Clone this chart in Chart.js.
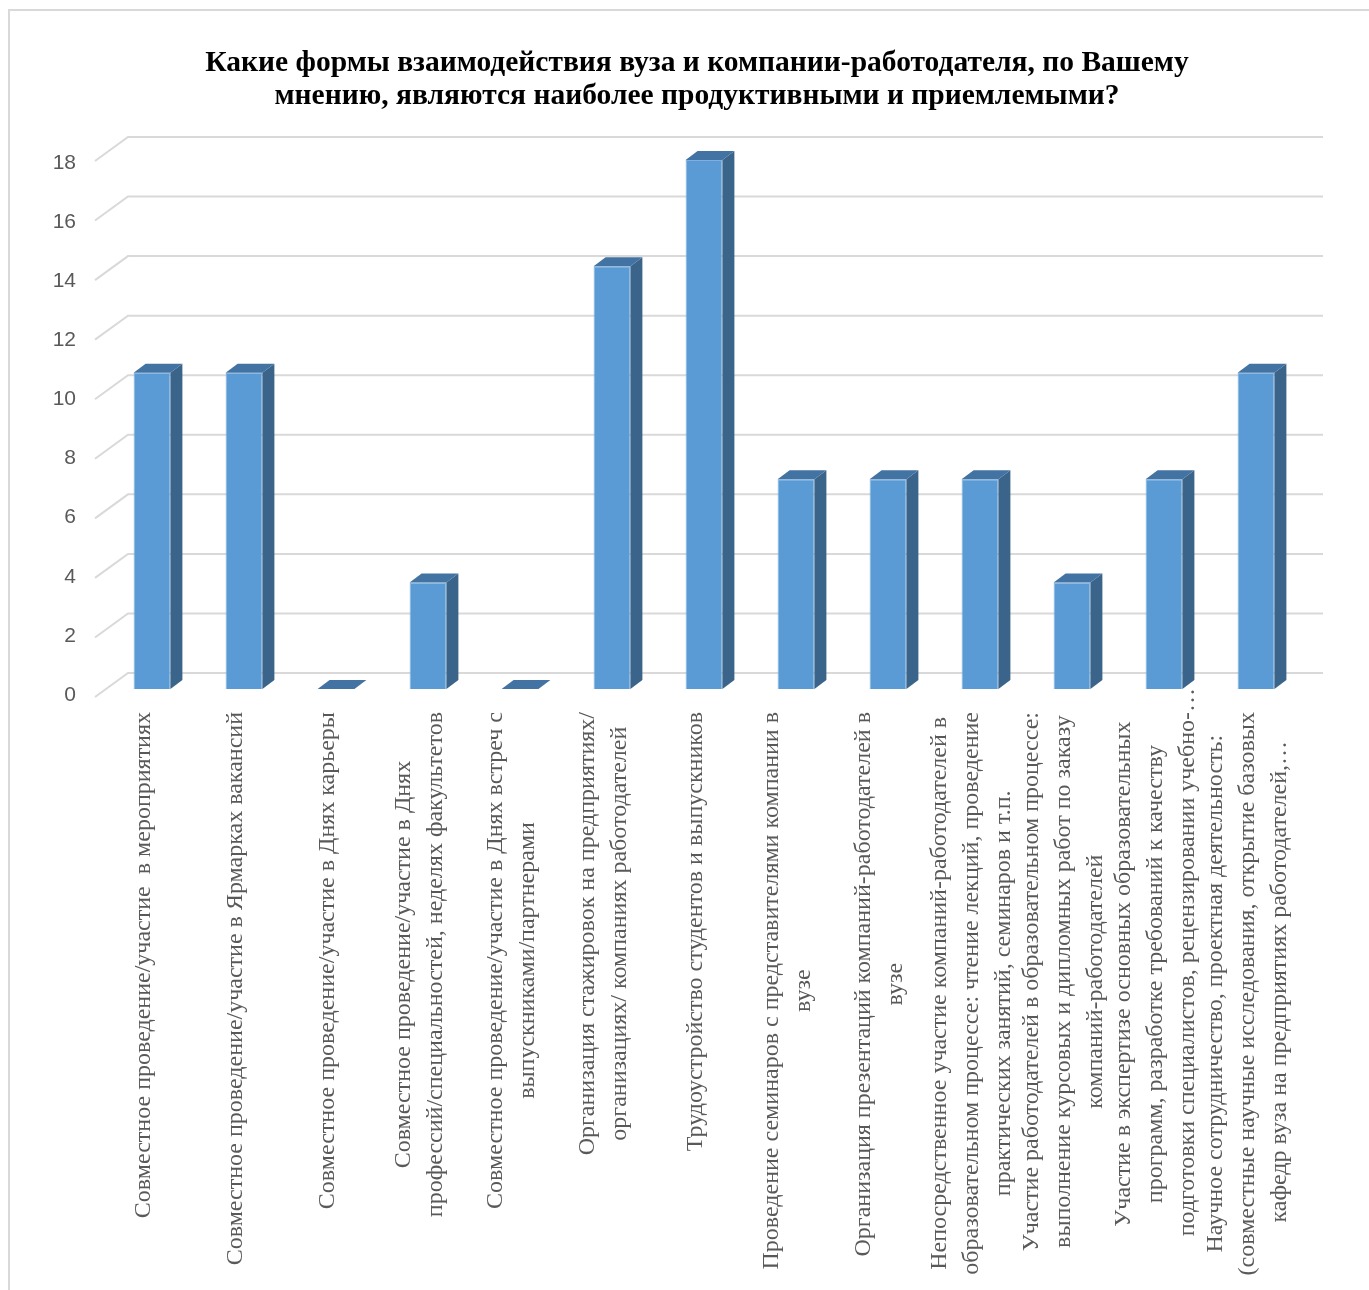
<!DOCTYPE html>
<html>
<head>
<meta charset="utf-8">
<script src="https://cdn.jsdelivr.net/npm/chart.js@4.4.1/dist/chart.umd.min.js"></script>
<style>
  html, body { margin: 0; padding: 0; background: #ffffff; }
  #wrap { position: relative; width: 1369px; height: 1290px; overflow: hidden; }
  canvas { display: block; }
</style>
</head>
<body>
<div id="wrap"><canvas id="c" width="1369" height="1290"></canvas></div>
<script>
// ---- Data ----
const titleLines = [
  "Какие формы взаимодействия вуза и компании-работодателя, по Вашему",
  "мнению, являются наиболее продуктивными и приемлемыми?"
];

const categories = [
  ["Совместное проведение/участие  в мероприятиях"],
  ["Совместное проведение/участие в Ярмарках вакансий"],
  ["Совместное проведение/участие в Днях карьеры"],
  ["Совместное проведение/участие в Днях", "профессий/специальностей, неделях факультетов"],
  ["Совместное проведение/участие в Днях встреч с", "выпускниками/партнерами"],
  ["Организация стажировок на предприятиях/", "организациях/ компаниях работодателей"],
  ["Трудоустройство студентов и выпускников"],
  ["Проведение семинаров с представителями компании в", "вузе"],
  ["Организация презентаций компаний-работодателей в", "вузе"],
  ["Непосредственное участие компаний-работодателей в", "образовательном процессе: чтение лекций, проведение", "практических занятий, семинаров и т.п."],
  ["Участие работодателей в образовательном процессе:", "выполнение курсовых и дипломных работ по заказу", "компаний-работодателей"],
  ["Участие в экспертизе основных образовательных", "программ, разработке требований к качеству", "подготовки специалистов, рецензировании учебно-…"],
  ["Научное сотрудничество, проектная деятельность:", "(совместные научные исследования, открытие базовых", "кафедр вуза на предприятиях работодателей,…"]
];

const values = [10.7, 10.7, 0, 3.6, 0, 14.3, 17.9, 7.1, 7.1, 7.1, 3.6, 7.1, 10.7];

const yMin = 0;
const yMax = 18;
const yStep = 2;

// ---- 3D look plugin ----
const DX = 12, DY = -9;

const threeD = {
  id: 'threeD',
  beforeDraw(chart) {
    const ctx = chart.ctx;
    ctx.save();
    // outer frame
    ctx.strokeStyle = '#d9d9d9';
    ctx.lineWidth = 2;
    ctx.beginPath();
    ctx.moveTo(9, 1295);
    ctx.lineTo(9, 10);
    ctx.lineTo(1375, 10);
    ctx.stroke();
    // title
    ctx.fillStyle = '#000000';
    ctx.font = 'bold 29.5px "Liberation Serif", "Times New Roman", serif';
    ctx.textAlign = 'center';
    ctx.textBaseline = 'middle';
    titleLines.forEach((s, i) => ctx.fillText(s, 697, 63 + i * 33));
    ctx.restore();
  },
  beforeDatasetsDraw(chart) {
    const ctx = chart.ctx, ys = chart.scales.y, ca = chart.chartArea;
    const y0 = ys.getPixelForValue(0);
    const k = 535 / 531;
    ctx.save();
    ctx.strokeStyle = '#d9d9d9';
    ctx.lineWidth = 2;
    ys.ticks.forEach(t => {
      const p = ys.getPixelForValue(t.value);
      const back = y0 - 16 + (p - y0) * k;
      const front = y0 + 8 + (p - y0) * k;
      ctx.beginPath();
      ctx.moveTo(ca.left - 11, front);
      ctx.lineTo(ca.left + 22, back);
      ctx.lineTo(ca.right + 21, back);
      ctx.stroke();
    });
    ctx.restore();
  },
  afterDatasetsDraw(chart) {
    const ctx = chart.ctx;
    const meta = chart.getDatasetMeta(0);
    ctx.save();
    meta.data.forEach(bar => {
      const w = bar.width;
      const l = bar.x - w / 2, r = bar.x + w / 2;
      const top = bar.y, base = bar.base;
      if (base - top > 0.5) {
        ctx.fillStyle = '#3a6489';
        ctx.beginPath();
        ctx.moveTo(r, top);
        ctx.lineTo(r + DX, top + DY);
        ctx.lineTo(r + DX, base + DY);
        ctx.lineTo(r, base);
        ctx.closePath();
        ctx.fill();
      }
      ctx.fillStyle = '#4273a3';
      ctx.beginPath();
      ctx.moveTo(l, top);
      ctx.lineTo(r, top);
      ctx.lineTo(r + DX, top + DY);
      ctx.lineTo(l + DX, top + DY);
      ctx.closePath();
      ctx.fill();
    });
    ctx.restore();
  },
  afterDraw(chart) {
    const ctx = chart.ctx, xs = chart.scales.x, ca = chart.chartArea;
    ctx.save();
    ctx.font = '24px "Liberation Serif", "Times New Roman", serif';
    ctx.fillStyle = '#595959';
    ctx.textAlign = 'center';
    ctx.textBaseline = 'middle';
    const topY = ca.bottom + 23;
    const lh = 32;
    const ell = ctx.measureText('…').width;
    categories.forEach((lines, i) => {
      const cx = xs.getPixelForValue(i) - 8;
      const core = lines.map(s => s.replace(/…$/, ''));
      const maxW = Math.max(...core.map(s => ctx.measureText(s).width));
      const cy = topY + maxW / 2;
      ctx.save();
      ctx.translate(cx, cy);
      ctx.rotate(-Math.PI / 2);
      lines.forEach((s, j) => {
        const shift = s.endsWith('…') ? ell / 2 : 0;
        ctx.fillText(s, shift, (j - (lines.length - 1) / 2) * lh);
      });
      ctx.restore();
    });
    ctx.restore();
  }
};

new Chart(document.getElementById('c'), {
  type: 'bar',
  data: {
    labels: categories,
    datasets: [{
      data: values,
      backgroundColor: '#5b9bd5',
      borderColor: '#7eb0e0',
      borderWidth: 1,
      barPercentage: 0.4,
      categoryPercentage: 1.0
    }]
  },
  options: {
    responsive: false,
    devicePixelRatio: 1,
    animation: false,
    layout: { padding: { top: 157, right: 67, left: 0, bottom: 0 } },
    plugins: {
      legend: { display: false },
      tooltip: { enabled: false },
      title: { display: false }
    },
    scales: {
      x: {
        grid: { display: false },
        border: { display: false },
        ticks: { display: false },
        afterFit(s) { s.height = 601; }
      },
      y: {
        min: yMin,
        max: yMax,
        grid: { display: false, drawTicks: false },
        border: { display: false },
        ticks: {
          stepSize: yStep,
          padding: 30,
          labelOffset: 6,
          color: '#595959',
          font: { family: '"Liberation Sans", Arial, sans-serif', size: 21 }
        },
        afterFit(s) { s.width = 106; }
      }
    }
  },
  plugins: [threeD]
});
</script>
</body>
</html>
